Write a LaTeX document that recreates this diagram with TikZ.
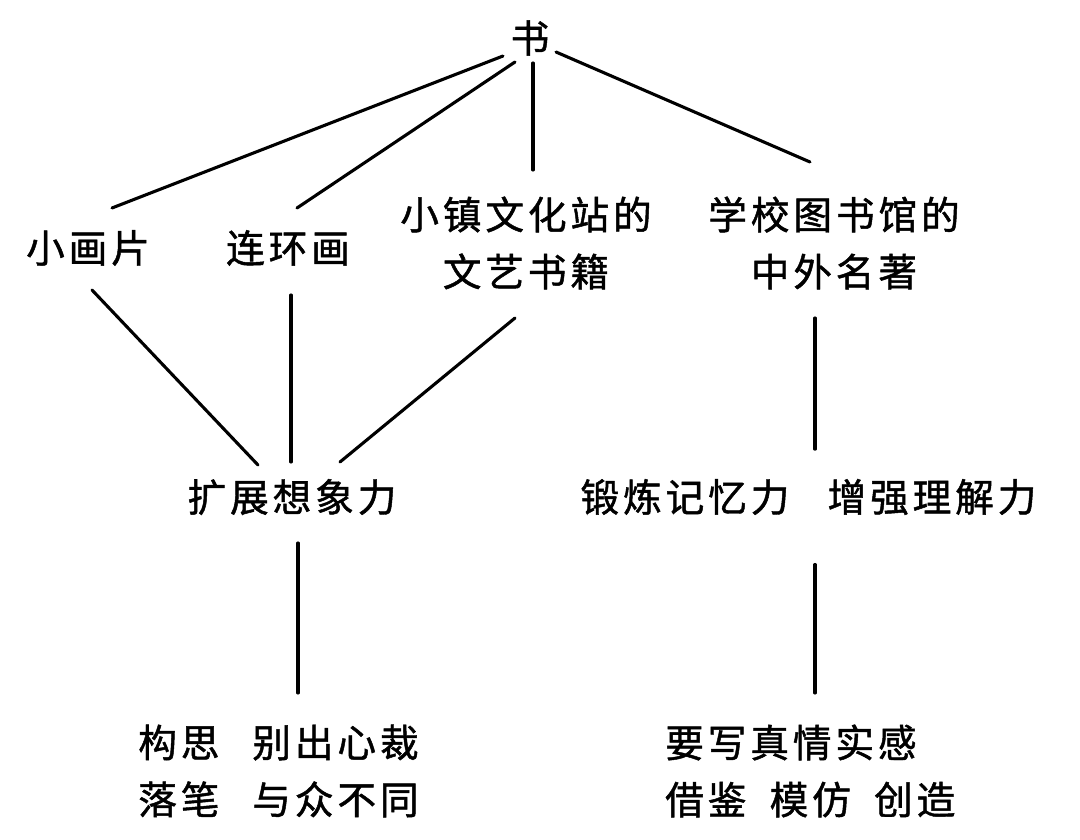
\documentclass[tikz,border=0pt]{standalone}
\usepackage{fontspec}
\newfontfamily\cjk[LetterSpace=10,FakeBold=1.2]{Noto Sans CJK SC}
\usetikzlibrary{positioning}

\begin{document}
\begin{tikzpicture}[x=0.025cm,y=-0.025cm,
  word/.style={font=\cjk\fontsize{27.5}{40.5}\selectfont,inner sep=0pt,align=center},
  pair/.style={word,align=left,anchor=west},
  link/.style={line width=2.2pt,line cap=round}]
  \useasboundingbox (0,0) rectangle (1080,840);
  % top level
  \node[word] (shu) at (530,38) {书};
  \node[word] (xhp) at (88,248) {小画片};
  \node[word] (lhh) at (288,248) {连环画};
  \node[word] (wyz) at (526,243) {小镇文化站的\\文艺书籍};
  \node[word] (xxt) at (834,243) {学校图书馆的\\中外名著};
  % middle level
  \node[word] (kzx) at (292,497) {扩展想象力};
  \node[word] (dlj) at (685,497) {锻炼记忆力};
  \node[word] (zql) at (932,497) {增强理解力};
  \coordinate (mem) at (815,497);
  % bottom level
  \node[pair] (gos) at (138,771) {构思\hspace{0.85em}别出心裁\\落笔\hspace{0.85em}与众不同};
  \node[pair] (yxz) at (665,771) {要写真情实感\\借鉴\hspace{0.6em}模仿\hspace{0.6em}创造};
  % links
  \draw[link] ([shift={(-27,18)}]shu.center) -- ([shift={(24,-40)}]xhp.center);
  \draw[link] ([shift={(-15,24)}]shu.center) -- ([shift={(9,-40)}]lhh.center);
  \draw[link] ([shift={(3,25)}]shu.center) -- ([shift={(7,-73)}]wyz.center);
  \draw[link] ([shift={(26,14)}]shu.center) -- ([shift={(-24,-81)}]xxt.center);
  \draw[link] ([shift={(4,42)}]xhp.center) -- ([shift={(-34,-32)}]kzx.center);
  \draw[link] ([shift={(3,47)}]lhh.center) -- ([shift={(-1,-35)}]kzx.center);
  \draw[link] ([shift={(-11,75)}]wyz.center) -- ([shift={(48,-35)}]kzx.center);
  \draw[link] ([shift={(-19,75)}]xxt.center) -- ([yshift=34]mem);
  \draw[link] ([shift={(6,46)}]kzx.center) -- ([shift={(160,-78)}]gos.west);
  \draw[link] ([yshift=-48]mem) -- ([shift={(150,-78)}]yxz.west);
\end{tikzpicture}
\end{document}
